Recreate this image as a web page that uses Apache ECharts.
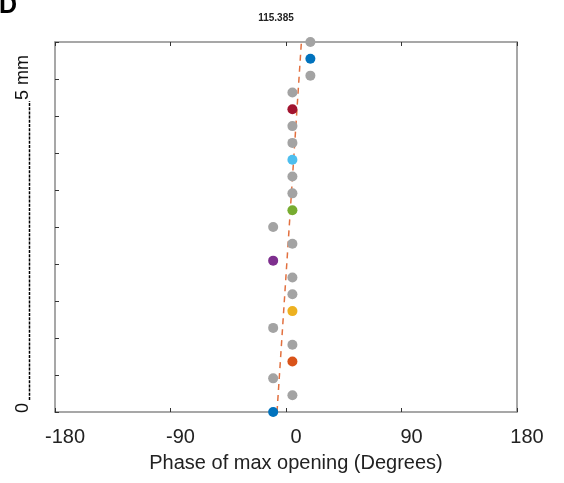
<!DOCTYPE html>
<html>
<head>
<meta charset="utf-8">
<script src="https://cdn.jsdelivr.net/npm/echarts@6/dist/echarts.min.js"></script>
<style>html,body{margin:0;padding:0;background:#fff}#c{width:564px;height:483px}</style>
</head>
<body>
<div id="c"></div>
<script>
// ---- data ----
const xTickLabels = ['-180', '-90', '0', '90', '180'];
const phaseDeg = [-10, 5, -10, 5, 5, -10, 5, 5, 5, -10, 5, -10, 5, 5, 5, 5, 5, 5, 5, 5, 19, 19, 19];
const position = [0, 1, 2, 3, 4, 5, 6, 7, 8, 9, 10, 11, 12, 13, 14, 15, 16, 17, 18, 19, 20, 21, 22];
const pointGroup = ['blue', 'gray', 'gray', 'orange', 'gray', 'gray', 'yellow', 'gray', 'gray', 'purple', 'gray', 'gray', 'green', 'gray', 'gray', 'lightblue', 'gray', 'gray', 'darkred', 'gray', 'gray', 'blue', 'gray'];
const fitX = [-7, 12];
const fitY = [0, 22];
const titleText = '115.385';

const groupColors = {
  gray: '#A3A3A3', blue: '#0072BD', orange: '#D95319', yellow: '#EDB120',
  purple: '#7E2F8E', green: '#77AC30', lightblue: '#4DBEEE', darkred: '#A2142F'
};

const chart = echarts.init(document.getElementById('c'), null, {renderer: 'canvas'});
const font = '"Liberation Sans", Arial, sans-serif';
const axisGray = '#8a8a8a';

const scatterData = phaseDeg.map((x, i) => ({
  value: [x, position[i]],
  itemStyle: {color: groupColors[pointGroup[i]], opacity: 1}
}));
const fitData = fitX.map((x, i) => [x, fitY[i]]);

const gLeft = 55, gRight = 517, gTop = 42, gBottom = 412;

chart.setOption({
  animation: false,
  backgroundColor: '#fff',
  title: {
    text: titleText, left: 271, top: 8,
    textAlign: 'center',
    textStyle: {fontFamily: font, fontSize: 10, fontWeight: 'bold', color: '#222'}
  },
  grid: {left: gLeft, right: 564 - gRight, top: gTop, bottom: 483 - gBottom},
  xAxis: [{
    type: 'value', min: -180, max: 180, interval: 90,
    axisLine: {show: true, onZero: false, lineStyle: {color: axisGray, width: 1.5}},
    axisTick: {show: true, inside: true, length: 4, lineStyle: {color: '#333', width: 1}},
    axisLabel: {
      fontFamily: font, fontSize: 20, color: '#222', margin: 15,
      padding: [0, 0, 0, 20],
      formatter: (v) => xTickLabels[Math.round((v + 180) / 90)]
    },
    splitLine: {show: false},
    name: 'Phase of max opening (Degrees)', nameLocation: 'middle', nameGap: 41,
    nameTextStyle: {fontFamily: font, fontSize: 20, color: '#222', padding: [0, 0, 0, 20]}
  }, {
    type: 'value', min: -180, max: 180, interval: 90, position: 'top',
    axisLine: {show: true, onZero: false, lineStyle: {color: axisGray, width: 1.5}},
    axisTick: {show: true, inside: true, length: 4, lineStyle: {color: '#333', width: 1}},
    axisLabel: {show: false}, splitLine: {show: false}
  }],
  yAxis: [{
    type: 'value', min: 0, max: 22, interval: 2.2,
    axisLine: {show: true, onZero: false, lineStyle: {color: axisGray, width: 1.5}},
    axisTick: {show: true, inside: true, length: 4, lineStyle: {color: '#333', width: 1}},
    axisLabel: {show: false}, splitLine: {show: false}
  }, {
    type: 'value', min: 0, max: 22, interval: 2.2, position: 'right',
    axisLine: {show: true, onZero: false, lineStyle: {color: axisGray, width: 1.5}},
    axisTick: {show: false},
    axisLabel: {show: false}, splitLine: {show: false}
  }],
  series: [{
    type: 'line', data: fitData, symbol: 'none', z: 2,
    lineStyle: {color: '#E2703F', width: 1.5, type: [6, 5]}
  }, {
    type: 'scatter', data: scatterData, symbolSize: 10, z: 3, clip: false
  }],
  graphic: [
    {type: 'text', left: -1, top: -6, style: {text: 'D', font: 'bold 25px ' + font, fill: '#000'}},
    {type: 'text', x: 23, y: 413, rotation: Math.PI / 2,
      style: {text: '0', font: '18px ' + font, fill: '#111', textAlign: 'left', textVerticalAlign: 'middle'}},
    {type: 'line', shape: {x1: 29.5, y1: 400, x2: 29.5, y2: 101},
      style: {stroke: '#000', lineWidth: 1.5, lineDash: [3, 1.2]}},
    {type: 'text', x: 23, y: 100, rotation: Math.PI / 2,
      style: {text: '5 mm', font: '18px ' + font, fill: '#111', textAlign: 'left', textVerticalAlign: 'middle'}}
  ]
});
</script>
</body>
</html>
